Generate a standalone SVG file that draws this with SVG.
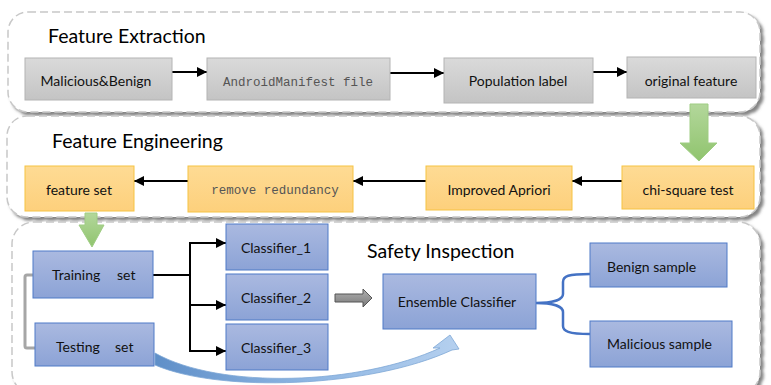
<svg xmlns="http://www.w3.org/2000/svg" width="771" height="385" viewBox="0 0 771 385">
<defs>
<style>
.panel{fill:#ffffff;stroke:#c8c8c8;stroke-width:1.5;stroke-dasharray:8 4;filter:url(#sh)}
.title{font-family:Lato,"Open Sans",sans-serif;font-size:19.5px;fill:#000}
.lbl{font-family:Lato,"Open Sans",sans-serif;font-size:14px;fill:#111;text-anchor:middle}
.mono{font-family:"Liberation Mono",monospace;font-size:12.5px;fill:#555;text-anchor:middle}
.grey{fill:url(#gGrey);stroke:#b4b4b4;stroke-width:1}
.orange{fill:url(#gOr);stroke:#f6c342;stroke-width:1}
.blue{fill:url(#gBlue);stroke:#4f7ac7;stroke-width:1}
.conn{fill:none;stroke:#000;stroke-width:2}
.green{fill:url(#gGreen);stroke:#9fcd83;stroke-width:1}
</style>
<filter id="sh" x="-5%" y="-10%" width="110%" height="125%">
<feDropShadow dx="3" dy="3" stdDeviation="1.5" flood-color="#666666" flood-opacity="0.8"/>
</filter>
<linearGradient id="gGrey" x1="0" y1="0" x2="0" y2="1"><stop offset="0" stop-color="#dadada"/><stop offset="1" stop-color="#c4c4c4"/></linearGradient>
<linearGradient id="gOr" x1="0" y1="0" x2="0" y2="1"><stop offset="0" stop-color="#fedb94"/><stop offset="1" stop-color="#fdd07c"/></linearGradient>
<linearGradient id="gBlue" x1="0" y1="0" x2="0" y2="1"><stop offset="0" stop-color="#aab9e0"/><stop offset="1" stop-color="#8ca3d6"/></linearGradient>
<linearGradient id="gGreen" x1="0" y1="0" x2="0" y2="1"><stop offset="0" stop-color="#b3d79b"/><stop offset="1" stop-color="#90c46e"/></linearGradient>
<linearGradient id="gDark" x1="0" y1="0" x2="0" y2="1"><stop offset="0" stop-color="#b0b0b0"/><stop offset="1" stop-color="#7a7a7a"/></linearGradient>
<linearGradient id="gCurve" x1="0" y1="0" x2="1" y2="0"><stop offset="0" stop-color="#5f8fc8"/><stop offset="0.5" stop-color="#8db5e2"/><stop offset="1" stop-color="#b5d0ef"/></linearGradient>
<marker id="ah" viewBox="0 0 10 10" refX="10" refY="5" markerWidth="5" markerHeight="5" orient="auto" markerUnits="strokeWidth">
<path d="M0,0 L10,5 L0,10 Z" fill="#000"/>
</marker>
</defs>

<g id="panels">
<rect id="panel-extraction" class="panel" x="8" y="12" width="752" height="100" rx="20"/>
<rect id="panel-engineering" class="panel" x="7" y="116" width="753" height="101" rx="20"/>
<rect id="panel-inspection" class="panel" x="12" y="222" width="748" height="172" rx="22"/>
</g>

<g id="titles">
<text class="title" x="48" y="43">Feature Extraction</text>
<text class="title" x="52" y="148">Feature Engineering</text>
<text class="title" x="367" y="258">Safety Inspection</text>
</g>

<g id="connectors">
<path class="conn" d="M172,72 H207" marker-end="url(#ah)"/>
<path class="conn" d="M390,73 H444" marker-end="url(#ah)"/>
<path class="conn" d="M591,72 H627" marker-end="url(#ah)"/>
<path class="conn" d="M622,181 H572" marker-end="url(#ah)"/>
<path class="conn" d="M426,181 H353" marker-end="url(#ah)"/>
<path class="conn" d="M188,181 H134" marker-end="url(#ah)"/>
<path class="conn" d="M153,275 H190 M190,243 V351"/>
<path class="conn" d="M189,243 H226" marker-end="url(#ah)"/>
<path class="conn" d="M189,305 H226" marker-end="url(#ah)"/>
<path class="conn" d="M189,351 H226" marker-end="url(#ah)"/>
<path d="M33,275 H27 Q25,275 25,277 V346 Q25,348 27,348 H35" fill="none" stroke="#a6a6a6" stroke-width="3"/>
<path class="green" d="M690,104 H708 V143 H717 L699,161 L680,143 H690 Z"/>
<path class="green" d="M85,213 H97 V225 H104 L92,247 L79,225 H85 Z"/>
<path d="M335,294 H363 V289 L372,298 L363,307 V302 H335 Z" fill="url(#gDark)" stroke="#555" stroke-width="1"/>
<path d="M536,303 C552,303 563,300 563,294 L563,282 C563,276 568,274 590,274 M536,303 C552,303 563,306 563,312 L563,326 C563,331 568,334 590,334" fill="none" stroke="#4472c4" stroke-width="2.5"/>
<path d="M155,353 C220,390 360,385 440,348 L433,348 L450,335 L459,349 L452,350 C370,388 220,393 155,365 Z" fill="url(#gCurve)" stroke="#7ea7d6" stroke-width="0.8"/>
</g>

<g id="n-malicious-benign"><rect class="grey" x="25" y="58" width="147" height="42"/><text class="lbl" x="96" y="86">Malicious&amp;Benign</text></g>
<g id="n-manifest"><rect class="grey" x="207" y="58" width="183" height="42"/><text class="mono" x="298" y="86">AndroidManifest file</text></g>
<g id="n-population"><rect class="grey" x="444" y="58" width="149" height="45"/><text class="lbl" x="518" y="86">Population label</text></g>
<g id="n-original"><rect class="grey" x="627" y="57" width="129" height="41"/><text class="lbl" x="691" y="86">original feature</text></g>

<g id="n-feature-set"><rect class="orange" x="25" y="166" width="109" height="45"/><text class="lbl" x="79" y="195">feature set</text></g>
<g id="n-remove"><rect class="orange" x="188" y="166" width="165" height="46"/><text class="mono" x="275" y="194">remove redundancy</text></g>
<g id="n-apriori"><rect class="orange" x="426" y="166" width="146" height="44"/><text class="lbl" x="499" y="195">Improved Apriori</text></g>
<g id="n-chi"><rect class="orange" x="622" y="166" width="132" height="43"/><text class="lbl" x="688" y="195">chi-square test</text></g>

<g id="n-training"><rect class="blue" x="33" y="251" width="120" height="47"/><text class="lbl" style="text-anchor:start"><tspan x="52" y="280">Training</tspan><tspan x="117" y="280">set</tspan></text></g>
<g id="n-testing"><rect class="blue" x="35" y="323" width="119" height="43"/><text class="lbl" style="text-anchor:start"><tspan x="56" y="352">Testing</tspan><tspan x="115" y="352">set</tspan></text></g>
<g id="n-c1"><rect class="blue" x="226" y="224" width="102" height="46"/><text class="lbl" x="276" y="253">Classifier_1</text></g>
<g id="n-c2"><rect class="blue" x="226" y="274" width="102" height="46"/><text class="lbl" x="276" y="303">Classifier_2</text></g>
<g id="n-c3"><rect class="blue" x="226" y="324" width="102" height="46"/><text class="lbl" x="276" y="353">Classifier_3</text></g>
<g id="n-ensemble"><rect class="blue" x="383" y="274" width="153" height="55"/><text class="lbl" x="457" y="307">Ensemble Classifier</text></g>
<g id="n-benign"><rect class="blue" x="590" y="243" width="137" height="44"/><text class="lbl" style="text-anchor:start" x="607" y="272">Benign sample</text></g>
<g id="n-malicious"><rect class="blue" x="590" y="321" width="142" height="46"/><text class="lbl" style="text-anchor:start" x="607" y="349">Malicious sample</text></g>
</svg>
